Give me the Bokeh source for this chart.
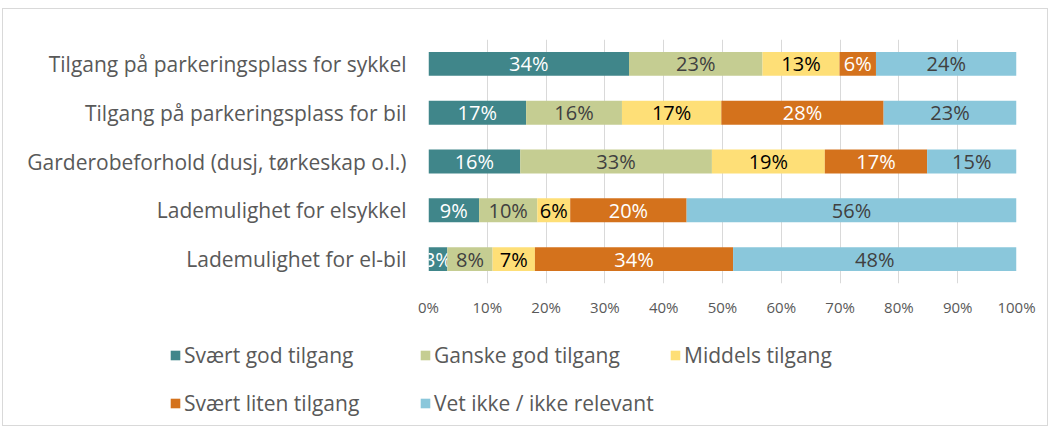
from bokeh.plotting import figure
from bokeh.layouts import column
from bokeh.models import ColumnDataSource, Range1d, FactorRange, FixedTicker, Legend, LegendItem
from bokeh.core.properties import value
from bokeh.embed import file_html
from bokeh.resources import INLINE

categories = [
    "Tilgang på parkeringsplass for sykkel",
    "Tilgang på parkeringsplass for bil",
    "Garderobeforhold (dusj, tørkeskap o.l.)",
    "Lademulighet for elsykkel",
    "Lademulighet for el-bil",
]
series_names = [
    "Svært god tilgang",
    "Ganske god tilgang",
    "Middels tilgang",
    "Svært liten tilgang",
    "Vet ikke / ikke relevant",
]
svaert_god = [34.1, 16.6, 15.6, 8.6, 3.2]
ganske_god = [22.7, 16.3, 32.6, 9.9, 7.7]
middels = [13.1, 16.9, 19.2, 5.6, 7.2]
svaert_liten = [6.2, 27.6, 17.4, 19.8, 33.7]
vet_ikke = [23.9, 22.6, 15.2, 56.1, 48.2]
x_ticks = [0, 10, 20, 30, 40, 50, 60, 70, 80, 90, 100]

colors = ["#40868A", "#C5CD92", "#FEDF77", "#D4721C", "#8AC7DB"]
label_colors = ["#FFFFFF", "#404040", "#000000", "#FFFFFF", "#404040"]
FONT = "Open Sans"

series = [svaert_god, ganske_god, middels, svaert_liten, vet_ikke]

p = figure(
    width=1044, height=310,
    y_range=FactorRange(factors=categories[::-1]),
    x_range=Range1d(0, 100),
    output_backend="svg", toolbar_location=None,
    min_border_left=425, min_border_right=31, min_border_top=30, min_border_bottom=36,
)
p.outline_line_color = None
p.frame_align = False

left = [0.0] * len(categories)
for name, vals, col, lcol in zip(series_names, series, colors, label_colors):
    right = [l + v for l, v in zip(left, vals)]
    src = ColumnDataSource(dict(
        y=categories, left=left, right=right,
        mid=[(l + r) / 2 for l, r in zip(left, right)],
        lab=[f"{round(v)}%" for v in vals],
    ))
    p.hbar(y="y", left="left", right="right", height=0.49, source=src,
           fill_color=col, line_color=None)
    p.text(x="mid", y="y", text="lab", source=src, text_align="center",
           text_baseline="middle", text_color=lcol, text_font=value(FONT),
           text_font_size="20px")
    left = right

p.xaxis.ticker = FixedTicker(ticks=x_ticks)
p.xaxis.major_label_overrides = {t: f"{t}%" for t in x_ticks}
p.xaxis.axis_line_color = None
p.xaxis.major_tick_line_color = None
p.xaxis.minor_tick_line_color = None
p.xaxis.major_label_standoff = 7
p.xaxis.major_label_text_font = FONT
p.xaxis.major_label_text_font_size = "15px"
p.xaxis.major_label_text_color = "#595959"

p.yaxis.axis_line_color = None
p.yaxis.major_tick_line_color = None
p.yaxis.minor_tick_line_color = None
p.yaxis.major_label_standoff = 16
p.yaxis.major_label_text_font = FONT
p.yaxis.major_label_text_font_size = "21px"
p.yaxis.major_label_text_color = "#595959"

p.xgrid.ticker = FixedTicker(ticks=x_ticks)
p.xgrid.grid_line_color = "#D9D9D9"
p.ygrid.grid_line_color = None

# legend figure (legend proxies sit outside its visible range)
p2 = figure(
    width=1044, height=106, x_range=Range1d(0, 1), y_range=Range1d(0, 1),
    output_backend="svg", toolbar_location=None,
    x_axis_location=None, y_axis_location=None,
    min_border_left=0, min_border_right=0, min_border_top=0, min_border_bottom=0,
)
p2.frame_align = False
p2.grid.visible = False
p2.outline_line_color = None
items = []
for name, col in zip(series_names, colors):
    r = p2.rect(x=[-5], y=[-5], width=0.1, height=0.1, fill_color=col, line_color=None)
    items.append(LegendItem(label=name, renderers=[r]))

legend = Legend(
    items=items, location=(166, 1), orientation="horizontal", ncols=3,
    glyph_width=12, glyph_height=12, label_standoff=3, label_width=230,
    label_height=43, spacing=5, padding=0, margin=0,
    border_line_color=None, background_fill_alpha=0,
    label_text_font=FONT, label_text_font_size="21px", label_text_color="#595959",
)
p2.add_layout(legend)

layout = column(p, p2, spacing=0)
layout.styles = {"border": "1px solid #D9D9D9", "margin-top": "8px", "margin-left": "2px"}

open("out.html", "w").write(file_html(layout, INLINE))
